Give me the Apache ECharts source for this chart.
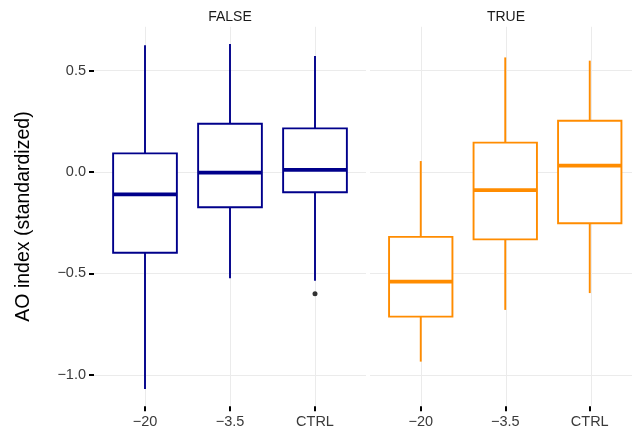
<!DOCTYPE html>
<html><head><meta charset="utf-8">
<script src="https://cdn.jsdelivr.net/npm/echarts@6/dist/echarts.min.js"></script>
<style>html,body{margin:0;padding:0;background:#fff}#c{width:632px;height:432px}</style>
</head><body><div id="c"></div>
<script>
// ---- data ----
const categories = ['−20', '−3.5', 'CTRL'];
const panelTitles = ['FALSE', 'TRUE'];
// each row: [min whisker, Q1, median, Q3, max whisker]
const falseStats = [
  [-1.07, -0.398, -0.11, 0.092, 0.625],
  [-0.524, -0.174, -0.003, 0.238, 0.631],
  [-0.536, -0.100, 0.010, 0.215, 0.572]
];
const trueStats = [
  [-0.935, -0.713, -0.541, -0.320, 0.054],
  [-0.680, -0.332, -0.089, 0.145, 0.565],
  [-0.597, -0.253, 0.031, 0.253, 0.549]
];
const falseOutliers = [[2, -0.60]];
const trueOutliers = [];
const yTickMin = -1.0, yTickMax = 0.5, yTickStep = 0.5;
const yMin = -1.155, yMax = 0.716;

// ---- layout ----
const Y0 = 172, S = 202.8;
const panelLefts = [94, 370], panelW = 272, unit = 85;
const colors = ['#00008B', '#FF8C00'];
const dataTop = Y0 - yMax * S, dataH = (yMax - yMin) * S;
const hTop = Y0 - yTickMax * S, hH = (yTickMax - yTickMin) * S;
const gridLineColor = '#EBEBEB';
const labelColor = '#3A3A3A';
const fmt = v => (v < 0 ? '−' : '') + Math.abs(v).toFixed(1);

const grid = [], xAxis = [], yAxis = [], series = [];
panelLefts.forEach((pl, p) => {
  grid.push({left: pl, top: hTop, width: panelW, height: hH});
  grid.push({left: pl + 0.6 * unit, top: dataTop, width: 2 * unit, height: dataH});
  grid.push({left: pl + 0.1 * unit, top: dataTop, width: 3 * unit, height: dataH});
  const gH = p * 3, gV = p * 3 + 1, gD = p * 3 + 2;
  xAxis.push({gridIndex: gH, type: 'value', show: false, min: 0, max: 1, axisLine: {show: false, onZero: false}});
  yAxis.push({gridIndex: gH, type: 'value', min: yTickMin, max: yTickMax, interval: yTickStep,
    axisLine: {show: false, onZero: false},
    axisTick: {show: p === 0, length: 5, lineStyle: {color: '#000', width: 2}},
    axisLabel: {show: p === 0, formatter: fmt, color: labelColor, fontSize: 14.5, margin: 8, fontFamily: 'Liberation Sans, Arial, sans-serif'},
    splitLine: {show: true, lineStyle: {color: gridLineColor, width: 1}}
  });
  xAxis.push({gridIndex: gV, type: 'value', min: 0, max: 2, interval: 1,
    axisLine: {show: false, onZero: false}, axisTick: {show: false}, axisLabel: {show: false},
    minorTick: {show: false}, splitLine: {show: true, lineStyle: {color: gridLineColor, width: 1}}
  });
  yAxis.push({gridIndex: gV, type: 'value', show: false, min: yMin, max: yMax, axisLine: {show: false, onZero: false}});
  xAxis.push({gridIndex: gD, type: 'category', data: categories, boundaryGap: true,
    axisLine: {show: false, onZero: false},
    axisTick: {show: true, alignWithLabel: true, length: 5, lineStyle: {color: '#000', width: 2}},
    axisLabel: {color: labelColor, fontSize: 14.5, margin: 8, fontFamily: 'Liberation Sans, Arial, sans-serif'},
    splitLine: {show: false}
  });
  yAxis.push({gridIndex: gD, type: 'value', show: false, min: yMin, max: yMax, axisLine: {show: false, onZero: false}});

  const stats = p === 0 ? falseStats : trueStats;
  const color = colors[p];
  const axisIdx = p * 3 + 2;
  series.push({
    type: 'custom', xAxisIndex: axisIdx, yAxisIndex: axisIdx,
    data: stats.map((s, i) => [i].concat(s)),
    encode: {x: 0, y: [1, 2, 3, 4, 5]},
    renderItem: function (params, api) {
      const xi = api.value(0);
      const pMin = api.coord([xi, api.value(1)]);
      const pQ1 = api.coord([xi, api.value(2)]);
      const pMed = api.coord([xi, api.value(3)]);
      const pQ3 = api.coord([xi, api.value(4)]);
      const pMax = api.coord([xi, api.value(5)]);
      const band = api.size([1, 0])[0];
      const half = band * 0.375;
      const x = pMed[0];
      const ls = {stroke: color, lineWidth: 1.9};
      return {type: 'group', children: [
        {type: 'line', shape: {x1: x, y1: pQ3[1], x2: x, y2: pMax[1]}, style: ls},
        {type: 'line', shape: {x1: x, y1: pQ1[1], x2: x, y2: pMin[1]}, style: ls},
        {type: 'rect', shape: {x: x - half, y: pQ3[1], width: 2 * half, height: pQ1[1] - pQ3[1]},
          style: {fill: '#fff', stroke: color, lineWidth: 1.9}},
        {type: 'line', shape: {x1: x - half, y1: pMed[1], x2: x + half, y2: pMed[1]},
          style: {stroke: color, lineWidth: 3.8}}
      ]};
    },
    z: 3
  });
  const outs = p === 0 ? falseOutliers : trueOutliers;
  if (outs.length) {
    series.push({type: 'scatter', xAxisIndex: axisIdx, yAxisIndex: axisIdx, data: outs,
      symbolSize: 5, itemStyle: {color: '#000'}, z: 4});
  }
});

const graphic = panelTitles.map((t, p) => ({
  type: 'text', x: panelLefts[p] + 1.6 * unit, y: 17,
  style: {text: t, fill: '#1A1A1A', font: '14px "Liberation Sans", Arial, sans-serif', align: 'center', verticalAlign: 'middle'}
}));
graphic.push({
  type: 'text', x: 23.5, y: (dataTop + dataTop + dataH) / 2, rotation: Math.PI / 2,
  style: {text: 'AO index (standardized)', fill: '#000', font: '19.5px "Liberation Sans", Arial, sans-serif', align: 'center', verticalAlign: 'middle'}
});

const chart = echarts.init(document.getElementById('c'), null, {renderer: 'canvas'});
chart.setOption({animation: false, backgroundColor: '#fff', grid, xAxis, yAxis, series, graphic});
</script></body></html>
